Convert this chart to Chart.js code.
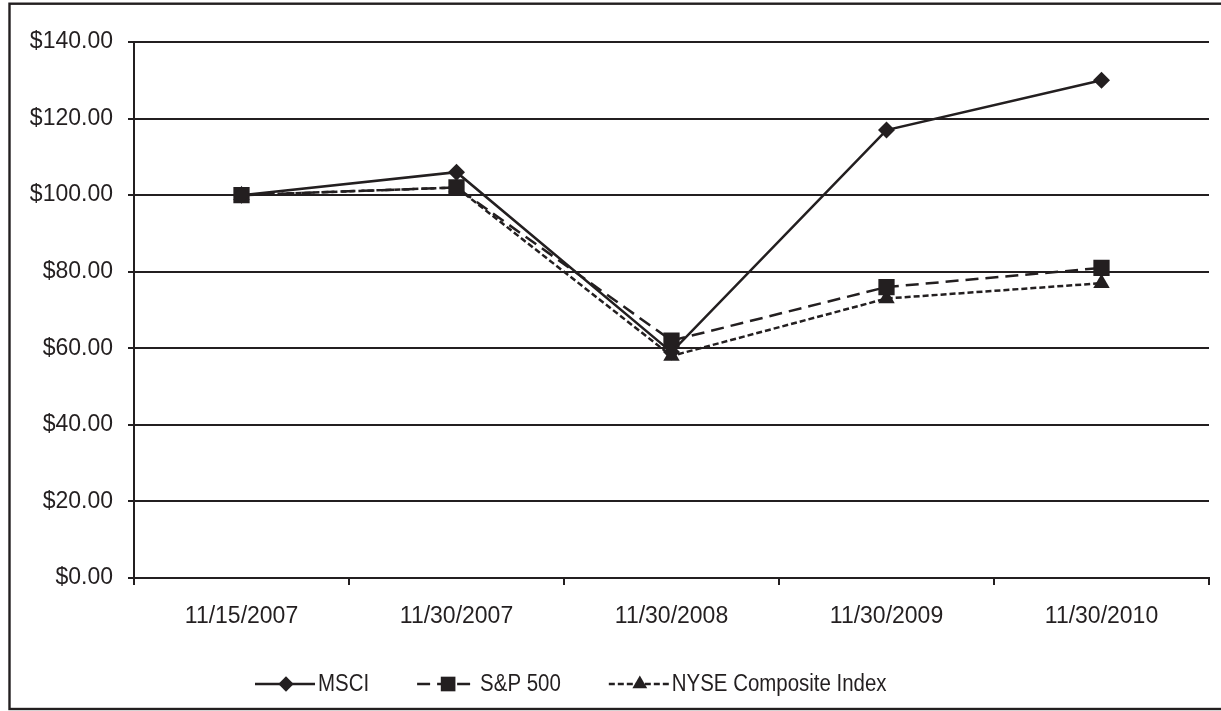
<!DOCTYPE html>
<html>
<head>
<meta charset="utf-8">
<title>Cumulative total return</title>
<script src="https://cdn.jsdelivr.net/npm/chart.js@4.4.1/dist/chart.umd.min.js"></script>
<style>
  html, body { margin: 0; padding: 0; background: #fff; }
  #wrap { width: 1221px; height: 711px; }
</style>
</head>
<body>
<div id="wrap"><canvas id="perf"></canvas></div>
<script>
// values
var dates = ["11/15/2007", "11/30/2007", "11/30/2008", "11/30/2009", "11/30/2010"];
var msci = [100, 106, 59, 117, 130];
var sp500 = [100, 102, 62, 76, 81];
var nyse = [100, 102, 58, 73, 77];
var seriesNames = ["MSCI", "S&P 500", "NYSE Composite Index"];

var INK = "#231f20";
var FONT = '"Liberation Sans", Arial, Helvetica, sans-serif';

function drawMarker(ctx, style, r, x, y) {
  ctx.beginPath();
  if (style == 'rectRot') {
    ctx.moveTo(x, y - r); ctx.lineTo(x + r, y); ctx.lineTo(x, y + r); ctx.lineTo(x - r, y);
  } else if (style == 'rect') {
    var s = r * Math.SQRT1_2;
    ctx.rect(x - s, y - s, 2 * s, 2 * s);
  } else {
    var h = r * Math.sqrt(3) / 2;
    ctx.moveTo(x, y - r); ctx.lineTo(x + h, y + r / 2); ctx.lineTo(x - h, y + r / 2);
  }
  ctx.closePath();
  ctx.fill();
}

// frame round the whole picture
var framePlugin = {
  id: 'frame',
  beforeDraw: function(chart) {
    var ctx = chart.ctx;
    ctx.save();
    ctx.fillStyle = '#fff';
    ctx.fillRect(0, 0, chart.width, chart.height);
    ctx.strokeStyle = INK;
    ctx.lineWidth = 2.4;
    ctx.strokeRect(9.5, 3.7, chart.width + 20, 705.3);
    ctx.restore();
  }
};

// legend with line sample + marker, like the original
var lineLegend = {
  id: 'lineLegend',
  afterDraw: function(chart) {
    var ctx = chart.ctx;
    var x = 255, y = 684;
    var squeeze = 0.87;
    ctx.save();
    chart.data.datasets.forEach(function(ds) {
      ctx.strokeStyle = INK;
      ctx.fillStyle = INK;
      ctx.lineWidth = 2.5;
      ctx.setLineDash(ds.borderDash || []);
      ctx.beginPath();
      ctx.moveTo(x, y);
      ctx.lineTo(x + 60, y);
      ctx.stroke();
      ctx.setLineDash([]);
      drawMarker(ctx, ds.pointStyle, ds.pointRadius * 0.9, x + 31, y);

      ctx.font = '23.5px ' + FONT;
      ctx.textBaseline = 'middle';
      ctx.textAlign = 'left';
      var w = ctx.measureText(ds.label).width * squeeze;
      ctx.save();
      ctx.translate(x + 63, y + 1);
      ctx.scale(squeeze, 1);
      ctx.fillText(ds.label, 0, 0);
      ctx.restore();
      x = x + 63 + w + 48;
    });
    ctx.restore();
  }
};

new Chart(document.getElementById("perf"), {
    type: 'line',
    data: {
      labels: dates,
      datasets: [
        {
          label: seriesNames[0],
          data: msci,
          borderColor: INK,
          backgroundColor: INK,
          borderWidth: 2.5,
          pointStyle: 'rectRot',
          pointRadius: 8.5,
          pointBorderWidth: 0,
          pointBackgroundColor: INK
        },
        {
          label: seriesNames[1],
          data: sp500,
          borderColor: INK,
          backgroundColor: INK,
          borderWidth: 2.5,
          borderDash: [13, 7],
          pointStyle: 'rect',
          pointRadius: 11.5,
          pointBorderWidth: 0,
          pointBackgroundColor: INK
        },
        {
          label: seriesNames[2],
          data: nyse,
          borderColor: INK,
          backgroundColor: INK,
          borderWidth: 2.5,
          borderDash: [6, 3],
          pointStyle: 'triangle',
          pointRadius: 9.5,
          pointBorderWidth: 0,
          pointBackgroundColor: INK
        }
      ]
    },
    options: {
      responsive: true,
      maintainAspectRatio: false,
      animation: false,
      layout: { padding: { left: 0, right: 12, top: 42, bottom: 0 } },
      plugins: {
        legend: { display: false },
        tooltip: { enabled: false }
      },
      scales: {
        x: {
          offset: true,
          grid: { offset: true, drawOnChartArea: false, drawTicks: true, tickLength: 7, color: INK, lineWidth: 2 },
          border: { display: true, color: INK, width: 2 },
          ticks: { color: INK, font: { family: FONT, size: 23 }, padding: 18, maxRotation: 0, autoSkip: false },
          afterFit: function(s) { s.height = 133; }
        },
        y: {
          min: 0,
          max: 140,
          grid: { color: INK, lineWidth: 2, tickLength: 6, drawTicks: true },
          border: { display: true, color: INK, width: 2 },
          ticks: {
            stepSize: 20,
            color: INK,
            padding: 15,
            font: { family: FONT, size: 23 },
            callback: function(v) { return '$' + v.toFixed(2); }
          },
          afterFit: function(s) { s.width = 134; }
        }
      }
    },
    plugins: [framePlugin, lineLegend]
});
</script>
</body>
</html>
